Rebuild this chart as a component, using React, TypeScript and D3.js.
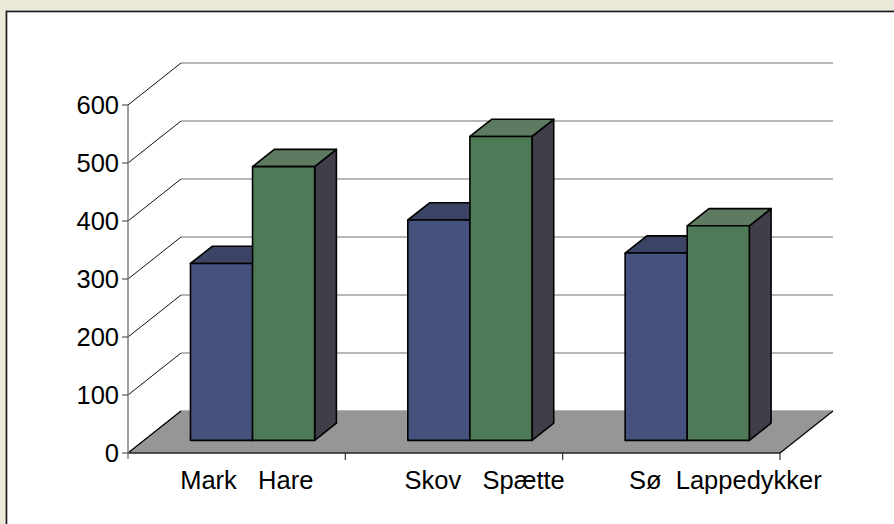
import React from "react";
import * as d3 from "d3";

const categories = ["Mark   Hare", " Skov   Spætte", "  Sø  Lappedykker"];
const seriesNames = ["A", "B"];
const seriesA = [305, 380, 323];
const seriesB = [472, 524, 370];
const yTicks = [0, 100, 200, 300, 400, 500, 600];

const W = 894;
const H = 524;
const DX = 53;
const DY = 42;
const F1 = 0.3;
const F2 = 0.71;

const frontFill = ["#46527E", "#4F7A58"];
const topFill = ["#3C4466", "#5E7A60"];
const sideFill = ["#413E4A", "#413E4A"];

export default function App() {
  const y = d3.scaleLinear().domain([0, 600]).range([453, 105]);
  const xCat = d3.scaleBand<string>().domain(categories).range([128, 780]).padding(0);
  const bw = xCat.bandwidth();
  const barW = bw / 3.5;
  const xSer = d3
    .scaleBand<string>()
    .domain(seriesNames)
    .range([barW * 0.75, bw - barW * 0.75])
    .padding(0);

  const proj = (x: number, v: number, f: number): [number, number] => [x + f * DX, y(v) - f * DY];
  const pts = (arr: [number, number][]) => arr.map((p) => p.join(",")).join(" ");

  const x0 = 128;
  const x1 = 780;
  const font = "'Liberation Sans', Arial, sans-serif";
  const values = [seriesA, seriesB];

  return (
    <svg
      width={W}
      height={H}
      style={{ position: "absolute", left: 0, top: 0, display: "block" }}
      fontFamily={font}
    >
      <rect x={0} y={0} width={W} height={H} fill="#ECE9D8" />
      <rect x={5} y={10} width={W + 20} height={H + 20} fill="#D4D0C8" />
      <rect x={6.5} y={11.5} width={W + 20} height={H + 20} fill="#FFFFFF" stroke="#1a1a1a" strokeWidth={1.6} />

      {/* back wall gridlines and side-wall diagonals */}
      {yTicks.map((t) => {
        const [bx, by] = proj(x0, t, 1);
        const [ex] = proj(x1, t, 1);
        return (
          <g key={"g" + t}>
            <line x1={bx} y1={by} x2={ex} y2={by} stroke="#707070" strokeWidth={1.2} />
            <line x1={x0} y1={y(t)} x2={bx} y2={by} stroke="#111" strokeWidth={1} />
          </g>
        );
      })}

      {/* floor */}
      <polygon
        points={pts([proj(x0, 0, 0), proj(x0, 0, 1), proj(x1, 0, 1), proj(x1, 0, 0)])}
        fill="#969696"
      />
      <line x1={x0} y1={y(0)} x2={proj(x0, 0, 1)[0]} y2={proj(x0, 0, 1)[1]} stroke="#000" strokeWidth={1.2} />
      <line x1={x1} y1={y(0)} x2={proj(x1, 0, 1)[0]} y2={proj(x1, 0, 1)[1]} stroke="#000" strokeWidth={1.2} />
      <line x1={x0} y1={y(0)} x2={x1} y2={y(0)} stroke="#222" strokeWidth={1.4} />

      {/* y axis */}
      <line x1={x0} y1={y(600)} x2={x0} y2={y(0) + 6} stroke="#808080" strokeWidth={1.5} />
      {yTicks.map((t) => (
        <g key={"t" + t}>
          <line x1={x0 - 6} y1={y(t)} x2={x0} y2={y(t)} stroke="#555" strokeWidth={1.2} />
          <text
            x={x0 - 9}
            y={y(t)}
            textAnchor="end"
            dominantBaseline="central"
            fontSize={25.5}
            fill="#000"
          >
            {t}
          </text>
        </g>
      ))}

      {/* x ticks */}
      {categories.map((c, i) => (
        <line
          key={"xt" + i}
          x1={(xCat(c) as number) + bw}
          y1={y(0)}
          x2={(xCat(c) as number) + bw}
          y2={y(0) + 7}
          stroke="#333"
          strokeWidth={1.2}
        />
      ))}

      {/* bars */}
      {categories.map((c, i) => (
        <g key={"c" + i}>
          {seriesNames.map((s, si) => {
            const v = values[si][i];
            const bx0 = (xCat(c) as number) + (xSer(s) as number);
            const bx1 = bx0 + xSer.bandwidth();
            const front: [number, number][] = [proj(bx0, 0, F1), proj(bx1, 0, F1), proj(bx1, v, F1), proj(bx0, v, F1)];
            const top: [number, number][] = [proj(bx0, v, F1), proj(bx1, v, F1), proj(bx1, v, F2), proj(bx0, v, F2)];
            const side: [number, number][] = [proj(bx1, 0, F1), proj(bx1, 0, F2), proj(bx1, v, F2), proj(bx1, v, F1)];
            return (
              <g key={s} stroke="#000" strokeWidth={1.6} strokeLinejoin="round">
                <polygon points={pts(side)} fill={sideFill[si]} />
                <polygon points={pts(top)} fill={topFill[si]} />
                <polygon points={pts(front)} fill={frontFill[si]} />
              </g>
            );
          })}
        </g>
      ))}

      {/* category labels */}
      {categories.map((c, i) => (
        <text
          key={"l" + i}
          x={(xCat(c) as number) + bw * 0.24}
          y={489}
          textAnchor="start"
          fontSize={25.5}
          fill="#000"
          style={{ whiteSpace: "pre" }}
        >
          {c}
        </text>
      ))}
    </svg>
  );
}
